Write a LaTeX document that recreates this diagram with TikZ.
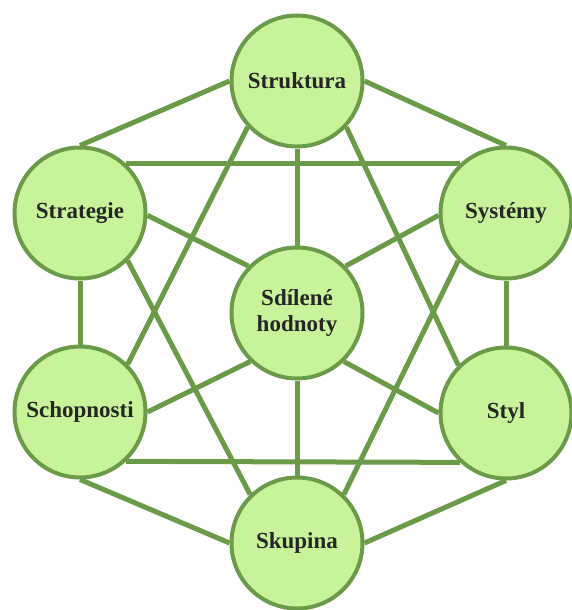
\documentclass[tikz,border=0pt]{standalone}
\usepackage{fontspec}
\setmainfont{Liberation Serif}
\usetikzlibrary{backgrounds}
\definecolor{lg}{HTML}{C8F39A}
\definecolor{dg}{HTML}{6B9A48}
\begin{document}
\begin{tikzpicture}[x=1pt,y=-1pt,
  circ/.style={circle, draw=dg, line width=4pt, fill=lg, minimum size=131pt,
    inner sep=0pt, align=center, text=black!85,
    font=\bfseries\fontsize{23}{26}\selectfont},
  link/.style={draw=dg, line width=5pt}]
\useasboundingbox (0,0) rectangle (571,610);
\node[circ] (str) at (297,81) {Struktura};
\node[circ] (stg) at (80,213) {Strategie};
\node[circ] (sys) at (506,213) {Systémy};
\node[circ] (sh) at (297,313) {Sdílené\\hodnoty};
\node[circ] (sch) at (80,412) {Schopnosti};
\node[circ] (sty) at (506,413) {Styl};
\node[circ] (sku) at (297,543) {Skupina};
\begin{scope}[on background layer]
  % outer hexagon
  \draw[link] (stg.north) -- (str.west);
  \draw[link] (str.east) -- (sys.north);
  \draw[link] (stg.south) -- (sch.north);
  \draw[link] (sys.south) -- (sty.north);
  \draw[link] (sch.south) -- (sku.west);
  \draw[link] (sty.south) -- (sku.east);
  % triangle 1
  \draw[link] (stg.47) -- (sys.133);
  \draw[link] (stg.-45) -- (sku.134);
  \draw[link] (sys.-135) -- (sku.46);
  % triangle 2
  \draw[link] (sch.-47) -- (sty.-133);
  \draw[link] (str.-137) -- (sch.45);
  \draw[link] (str.-43) -- (sty.135);
  % spokes to centre
  \draw[link] (str.south) -- (sh.north);
  \draw[link] (sh.south) -- (sku.north);
  \draw[link] (stg.-2) -- (sh.136);
  \draw[link] (sys.182) -- (sh.44);
  \draw[link] (sch.0) -- (sh.-134);
  \draw[link] (sty.180) -- (sh.-46);
\end{scope}
\end{tikzpicture}
\end{document}
